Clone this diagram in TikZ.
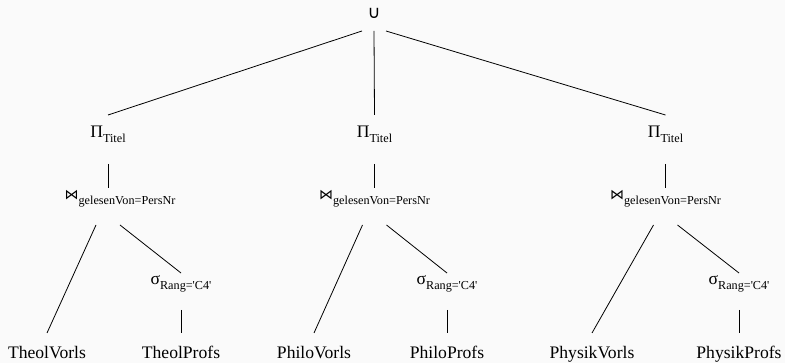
\documentclass[tikz,border=0pt]{standalone}
\usepackage{fontspec}
\usetikzlibrary{calc}
\setmainfont{Liberation Serif}
\newfontfamily\lserifq{Liberation Serif}
\newfontfamily\ldejavu{DejaVu Sans}
\newcommand\mainsz{\fontsize{17.6pt}{20pt}\selectfont}
\newcommand\subsz{\fontsize{12.2pt}{14pt}\selectfont}
\newcommand\opsub[2]{{\mainsz #1}\raisebox{-4.5pt}{\subsz #2}}
\newcommand\joinsym{{\ldejavu\fontsize{14pt}{16pt}\selectfont ⋈}}
\definecolor{bgc}{RGB}{250,250,250}
\begin{document}
\begin{tikzpicture}[x=1pt,y=-1pt,
  every node/.style={inner sep=0pt, anchor=base, font=\rmfamily\mainsz},
  edge/.style={draw=black, line width=0.8pt}]
\fill[bgc] (0,0) rectangle (785,363);
\useasboundingbox (0,0) rectangle (785,363);

% root
\node (u) at (374,19) {\ldejavu ∪};
% projections
\node (p1) at (108,138) {\opsub{Π}{Titel}};
\node (p2) at (374.5,138) {\opsub{Π}{Titel}};
\node (p3) at (665.5,138) {\opsub{Π}{Titel}};
% joins
\node (j1) at (120,200) {\opsub{\joinsym}{gelesenVon=PersNr}};
\node (j2) at (374.5,200) {\opsub{\joinsym}{gelesenVon=PersNr}};
\node (j3) at (665.5,200) {\opsub{\joinsym}{gelesenVon=PersNr}};
% selections
\node (s1) at (181,285) {\opsub{σ}{\lserifq Rang='C4'}};
\node (s2) at (447,285) {\opsub{σ}{\lserifq Rang='C4'}};
\node (s3) at (739,285) {\opsub{σ}{\lserifq Rang='C4'}};
% leaves
\node (l1) at (47,359) {TheolVorls};
\node (l2) at (181,359) {TheolProfs};
\node (l3) at (314,359) {PhiloVorls};
\node (l4) at (447,359) {PhiloProfs};
\node (l5) at (592,359) {PhysikVorls};
\node (l6) at (739,359) {PhysikProfs};

% root edges
\draw[edge] ($(u.base)+(-12,12)$) -- ($(p1.base)+(0,-23)$);
\draw[edge] ($(u.base)+(0,12)$) -- ($(p2.base)+(0,-23)$);
\draw[edge] ($(u.base)+(12,12)$) -- ($(p3.base)+(0,-23)$);
% projection to join
\draw[edge] ($(p1.base)+(0,26)$) -- ($(j1.base)+(-12,-12)$);
\draw[edge] ($(p2.base)+(0,26)$) -- ($(j2.base)+(0,-12)$);
\draw[edge] ($(p3.base)+(0,26)$) -- ($(j3.base)+(0,-12)$);
% join to children
\draw[edge] ($(j1.base)+(-24,25)$) -- ($(l1.base)+(0,-26)$);
\draw[edge] ($(j1.base)+(0,25)$) -- ($(s1.base)+(0,-12)$);
\draw[edge] ($(j2.base)+(-12,25)$) -- ($(l3.base)+(0,-26)$);
\draw[edge] ($(j2.base)+(12,25)$) -- ($(s2.base)+(0,-12)$);
\draw[edge] ($(j3.base)+(-12,25)$) -- ($(l5.base)+(0,-26)$);
\draw[edge] ($(j3.base)+(12,25)$) -- ($(s3.base)+(0,-12)$);
% selection to relation
\draw[edge] ($(s1.base)+(0,25)$) -- ($(l2.base)+(0,-26)$);
\draw[edge] ($(s2.base)+(0,25)$) -- ($(l4.base)+(0,-26)$);
\draw[edge] ($(s3.base)+(0,25)$) -- ($(l6.base)+(0,-26)$);
\end{tikzpicture}
\end{document}
